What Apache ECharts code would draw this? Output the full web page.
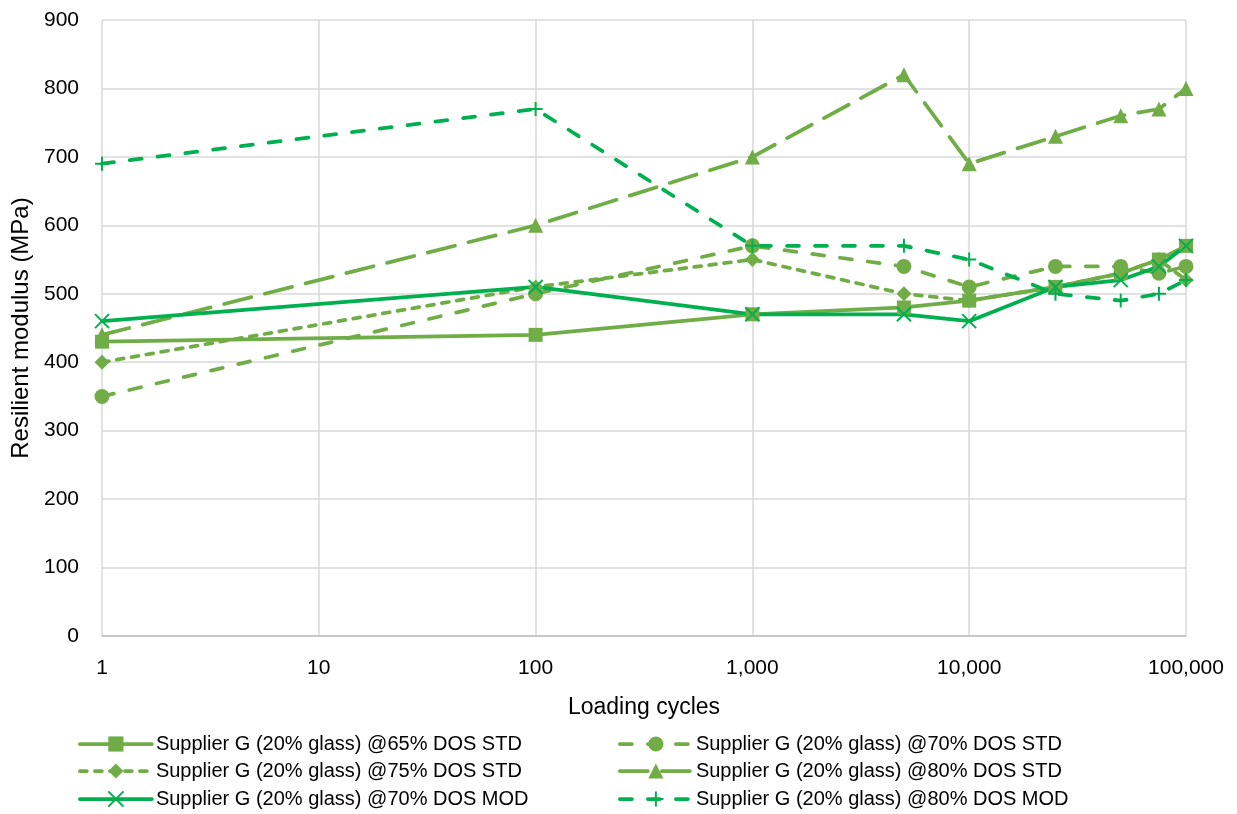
<!DOCTYPE html>
<html>
<head>
<meta charset="utf-8">
<script src="https://cdn.jsdelivr.net/npm/echarts@6/dist/echarts.min.js"></script>
<style>
  html, body { margin: 0; padding: 0; background: #fff; }
  #chart { width: 1237px; height: 814px; }
</style>
</head>
<body>
<div id="chart"></div>
<script>
// Loading cycles at which the resilient modulus was measured
const cycles = [1, 100, 1000, 5000, 10000, 25000, 50000, 75000, 100000];

// Resilient modulus (MPa) per specimen
const g65Std = [430, 440, 470, 480, 490, 510, 530, 550, 570];
const g70Std = [350, 500, 570, 540, 510, 540, 540, 530, 540];
const g75Std = [400, 510, 550, 500, 490, 510, 530, 550, 520];
const g80Std = [440, 600, 700, 820, 690, 730, 760, 770, 800];
const g70Mod = [460, 510, 470, 470, 460, 510, 520, 540, 570];
const g80Mod = [690, 770, 570, 570, 550, 500, 490, 500, 520];

const seriesNames = [
  'Supplier G (20% glass) @65% DOS STD',
  'Supplier G (20% glass) @70% DOS STD',
  'Supplier G (20% glass) @75% DOS STD',
  'Supplier G (20% glass) @80% DOS STD',
  'Supplier G (20% glass) @70% DOS MOD',
  'Supplier G (20% glass) @80% DOS MOD'
];

const olive = '#70AD47';
const green = '#00B050';
const FONT = 'Liberation Sans, Arial, sans-serif';

const crossPath = 'path://M0,0L10,10M10,0L0,10';
const plusPath = 'path://M5,0L5,10M0,5L10,5';

function pairs(vals) {
  return cycles.map((c, i) => [c, vals[i]]);
}

function makeSeries(name, vals, color, dash, symbol, size, stroked) {
  return {
    name: name,
    type: 'line',
    data: pairs(vals),
    symbol: symbol,
    symbolSize: size,
    showAllSymbol: true,
    lineStyle: { color: color, width: 3.75, type: dash, cap: 'round' },
    itemStyle: stroked
      ? { color: color, borderColor: color, borderWidth: 2 }
      : { color: color },
    emphasis: { disabled: true }
  };
}

const series = [
  makeSeries(seriesNames[0], g65Std, olive, 'solid', 'rect', 14, false),
  makeSeries(seriesNames[1], g70Std, olive, [12, 16], 'circle', 15, false),
  makeSeries(seriesNames[2], g75Std, olive, [7, 8], 'diamond', 15, false),
  makeSeries(seriesNames[3], g80Std, olive, [28, 14], 'triangle', 15, false),
  makeSeries(seriesNames[4], g70Mod, green, 'solid', crossPath, 14, true),
  makeSeries(seriesNames[5], g80Mod, green, [12, 16], plusPath, 14, true)
];

// Two-column legend, one entry per slot (left, vertical centre)
const legendSlots = [
  [78, 745], [618, 745],
  [78, 772], [618, 772],
  [78, 800], [618, 800]
];
const legends = seriesNames.map((n, i) => ({
  data: [n],
  left: legendSlots[i][0],
  top: legendSlots[i][1] - 11,
  itemWidth: 72,
  itemHeight: 19,
  itemGap: 0,
  padding: 0,
  selectedMode: false,
  lineStyle: { width: 3.75 },
  textStyle: { fontFamily: FONT, fontSize: 20, color: '#000', padding: [0, 0, 0, -1] }
}));

const chart = echarts.init(document.getElementById('chart'), null, { renderer: 'canvas' });
chart.setOption({
  animation: false,
  backgroundColor: '#fff',
  grid: { left: 102, right: 51, top: 20, bottom: 178, containLabel: false, outerBoundsMode: 'none' },
  legend: legends,
  xAxis: {
    type: 'log',
    logBase: 10,
    min: 1,
    max: 100000,
    name: 'Loading cycles',
    nameLocation: 'middle',
    nameGap: 60,
    nameTextStyle: { fontFamily: FONT, fontSize: 23, color: '#000' },
    axisLine: { show: true, lineStyle: { color: '#BFBFBF', width: 1.5 } },
    axisTick: { show: false },
    axisLabel: {
      margin: 22,
      fontFamily: FONT,
      fontSize: 21,
      color: '#000',
      formatter: v => Math.round(v).toLocaleString('en-US')
    },
    splitLine: { show: true, lineStyle: { color: '#D9D9D9', width: 1.5 } },
    minorTick: { show: false },
    minorSplitLine: { show: false }
  },
  yAxis: {
    type: 'value',
    min: 0,
    max: 900,
    interval: 100,
    name: 'Resilient modulus (MPa)',
    nameLocation: 'middle',
    nameGap: 66,
    nameTextStyle: { fontFamily: FONT, fontSize: 24, color: '#000' },
    axisLine: { show: false },
    axisTick: { show: false },
    axisLabel: { margin: 23, fontFamily: FONT, fontSize: 21, color: '#000' },
    splitLine: { show: true, lineStyle: { color: '#D9D9D9', width: 1.5 } }
  },
  series: series
});
</script>
</body>
</html>
